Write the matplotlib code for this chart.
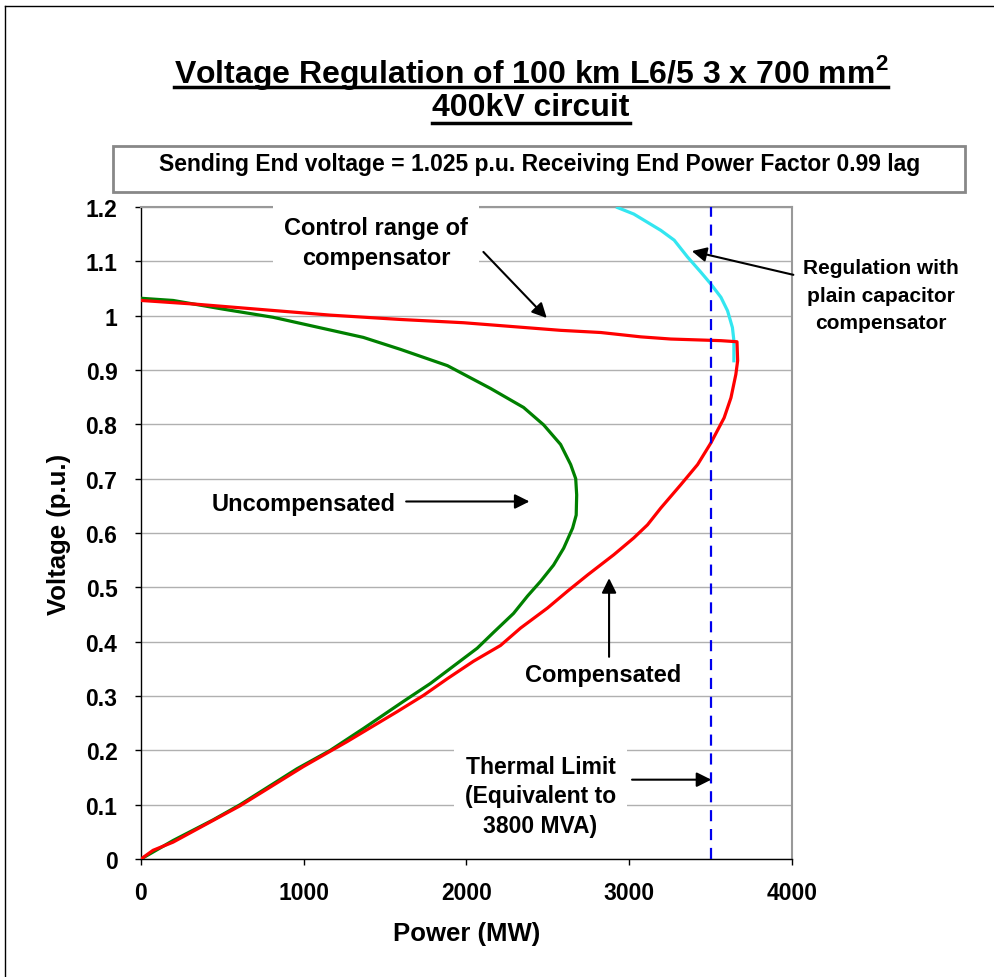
import matplotlib
matplotlib.use('Agg')
import matplotlib.pyplot as plt
from matplotlib.lines import Line2D
from matplotlib.patches import Rectangle

# -- data --
unc_p = [0, 197, 505, 812, 1366, 1594, 1883, 2148, 2351, 2474, 2578, 2640, 2671, 2677, 2674,
         2652, 2597, 2535, 2455, 2375, 2289, 2166, 2066, 1920, 1778, 1612, 1366, 1163, 958, 609, 443, 197, 0]
unc_v = [1.032, 1.028, 1.012, 0.997, 0.960, 0.938, 0.908, 0.866, 0.831, 0.799, 0.763, 0.726, 0.700, 0.670, 0.633,
         0.609, 0.572, 0.541, 0.511, 0.484, 0.452, 0.417, 0.388, 0.355, 0.323, 0.290, 0.240, 0.200, 0.166, 0.100, 0.072, 0.034, 0]

comp_p = [0, 343, 1163, 1594, 1982, 2578, 2825, 3071, 3255, 3563, 3662, 3666, 3655, 3625, 3583, 3502, 3420, 3317,
          3194, 3112, 3028, 2905, 2745, 2621, 2498, 2332, 2209, 2043, 1883, 1735, 1573, 1266, 997, 609, 197, 74, 0]
comp_v = [1.028, 1.021, 1.001, 0.993, 0.987, 0.973, 0.969, 0.961, 0.957, 0.954, 0.952, 0.917, 0.892, 0.849, 0.812, 0.766, 0.726, 0.689,
          0.646, 0.615, 0.591, 0.560, 0.523, 0.493, 0.462, 0.425, 0.393, 0.364, 0.332, 0.301, 0.271, 0.216, 0.170, 0.098, 0.031, 0.016, 0]

cap_p = [2928, 3028, 3194, 3276, 3358, 3440, 3502, 3563, 3604, 3634, 3643, 3643]
cap_v = [1.199, 1.187, 1.157, 1.139, 1.108, 1.080, 1.058, 1.034, 1.009, 0.978, 0.954, 0.917]

thermal_limit = 3500
x_ticks = [0, 1000, 2000, 3000, 4000]
y_ticks = [0, 0.1, 0.2, 0.3, 0.4, 0.5, 0.6, 0.7, 0.8, 0.9, 1, 1.1, 1.2]
y_labels = ['0', '0.1', '0.2', '0.3', '0.4', '0.5', '0.6', '0.7', '0.8', '0.9', '1', '1.1', '1.2']

plt.rcParams['font.family'] = ['Liberation Sans', 'DejaVu Sans']
plt.rcParams['font.weight'] = 'bold'
plt.rcParams['mathtext.fontset'] = 'custom'
plt.rcParams['mathtext.bf'] = 'Liberation Sans:bold'
plt.rcParams['mathtext.rm'] = 'Liberation Sans:bold'

W, H = 995, 978
fig = plt.figure(figsize=(W / 100, H / 100), dpi=100)
ax = fig.add_axes([141 / W, 1 - 860 / H, (792 - 141) / W, (860 - 208) / H])

ax.plot(unc_p, unc_v, color='#008000', lw=2.3, zorder=3)
ax.plot(cap_p, cap_v, color='#33e6f0', lw=2.3, zorder=3)
ax.plot(comp_p, comp_v, color='#ff0000', lw=2.3, zorder=4)
ax.axvline(thermal_limit, color='#0000ee', lw=1.6, ls=(0, (5, 3.5)), zorder=5)

ax.set_xlim(0, 4000)
ax.set_ylim(0, 1.2)
ax.set_xticks(x_ticks)
ax.set_yticks(y_ticks)
ax.set_yticklabels(y_labels)
ax.grid(axis='y', color='#b0b0b0', lw=1.0)
ax.set_axisbelow(True)
ax.tick_params(axis='both', direction='out', length=4, width=1, labelsize=16.5)
ax.tick_params(axis='x', pad=12)
ax.tick_params(axis='y', pad=13)
for s in ['top', 'right']:
    ax.spines[s].set_color('#999999')
    ax.spines[s].set_linewidth(1.5)
for s in ['left', 'bottom']:
    ax.spines[s].set_color('black')
    ax.spines[s].set_linewidth(1)
for lab in ax.get_xticklabels() + ax.get_yticklabels():
    lab.set_fontweight('bold')

ax.set_xlabel('Power (MW)', fontsize=18.5, fontweight='bold', labelpad=12)
ax.set_ylabel('Voltage (p.u.)', fontsize=18.5, fontweight='bold', labelpad=10)

# annotations
box = dict(facecolor='white', edgecolor='none', pad=8)
arr = dict(arrowstyle='-|>', color='black', lw=1.5, mutation_scale=22)
ax.text(1446, 1.134, 'Control range of\ncompensator', ha='center', va='center', fontsize=17,
        fontweight='bold', linespacing=1.4, bbox=box, clip_on=False, zorder=6)
ax.annotate('', xy=(2505, 0.992), xytext=(2092, 1.121), arrowprops=arr, zorder=6)

ax.text(4548, 1.038, 'Regulation with\nplain capacitor\ncompensator', ha='center', va='center', fontsize=15,
        fontweight='bold', linespacing=1.55, clip_on=False)
ax.annotate('', xy=(3368, 1.12), xytext=(4025, 1.074), arrowprops=arr,
            annotation_clip=False, zorder=6)

ax.text(997, 0.655, 'Uncompensated', ha='center', va='center', fontsize=17, fontweight='bold')
ax.annotate('', xy=(2404, 0.658), xytext=(1612, 0.658), arrowprops=arr)

ax.text(2837, 0.340, 'Compensated', ha='center', va='center', fontsize=17, fontweight='bold')
ax.annotate('', xy=(2876, 0.522), xytext=(2876, 0.367), arrowprops=arr)

ax.text(2455, 0.116, 'Thermal Limit\n(Equivalent to\n3800 MVA)', ha='center', va='center', fontsize=16.5,
        fontweight='bold', linespacing=1.35, bbox=box, zorder=6)
ax.annotate('', xy=(3521, 0.146), xytext=(3000, 0.146), arrowprops=arr, zorder=6)

# title and subtitle
t1 = fig.text(531 / W, 1 - 72 / H, r'Voltage Regulation of 100 km L6/5 3 x 700 mm$^{\mathbf{2}}$',
              ha='center', va='center', fontsize=23, fontweight='bold')
t2 = fig.text(531 / W, 1 - 108 / H, '400kV circuit', ha='center', va='center', fontsize=23, fontweight='bold')
fig.add_artist(Rectangle((113 / W, 1 - 193 / H), (965 - 113) / W, (193 - 147) / H, transform=fig.transFigure,
                         facecolor='white', edgecolor='#888888', lw=2))
fig.text(540 / W, 1 - 165 / H, 'Sending End voltage = 1.025 p.u. Receiving End Power Factor 0.99 lag',
         ha='center', va='center', fontsize=16.5, fontweight='bold')

# outer frame
fig.add_artist(Line2D([5 / W, 5 / W], [0, 1 - 7 / H], transform=fig.transFigure, color='black', lw=1))
fig.add_artist(Line2D([5 / W, 1], [1 - 7 / H, 1 - 7 / H], transform=fig.transFigure, color='black', lw=1))

# underline the title lines
fig.canvas.draw()
r = fig.canvas.get_renderer()
for t, yy in [(t1, 88), (t2, 124)]:
    bb = t.get_window_extent(r)
    y = 1 - yy / H
    fig.add_artist(Line2D([bb.x0 / fig.bbox.width, bb.x1 / fig.bbox.width], [y, y],
                          transform=fig.transFigure, color='black', lw=2.5))

fig.savefig('out.png', dpi=100)
